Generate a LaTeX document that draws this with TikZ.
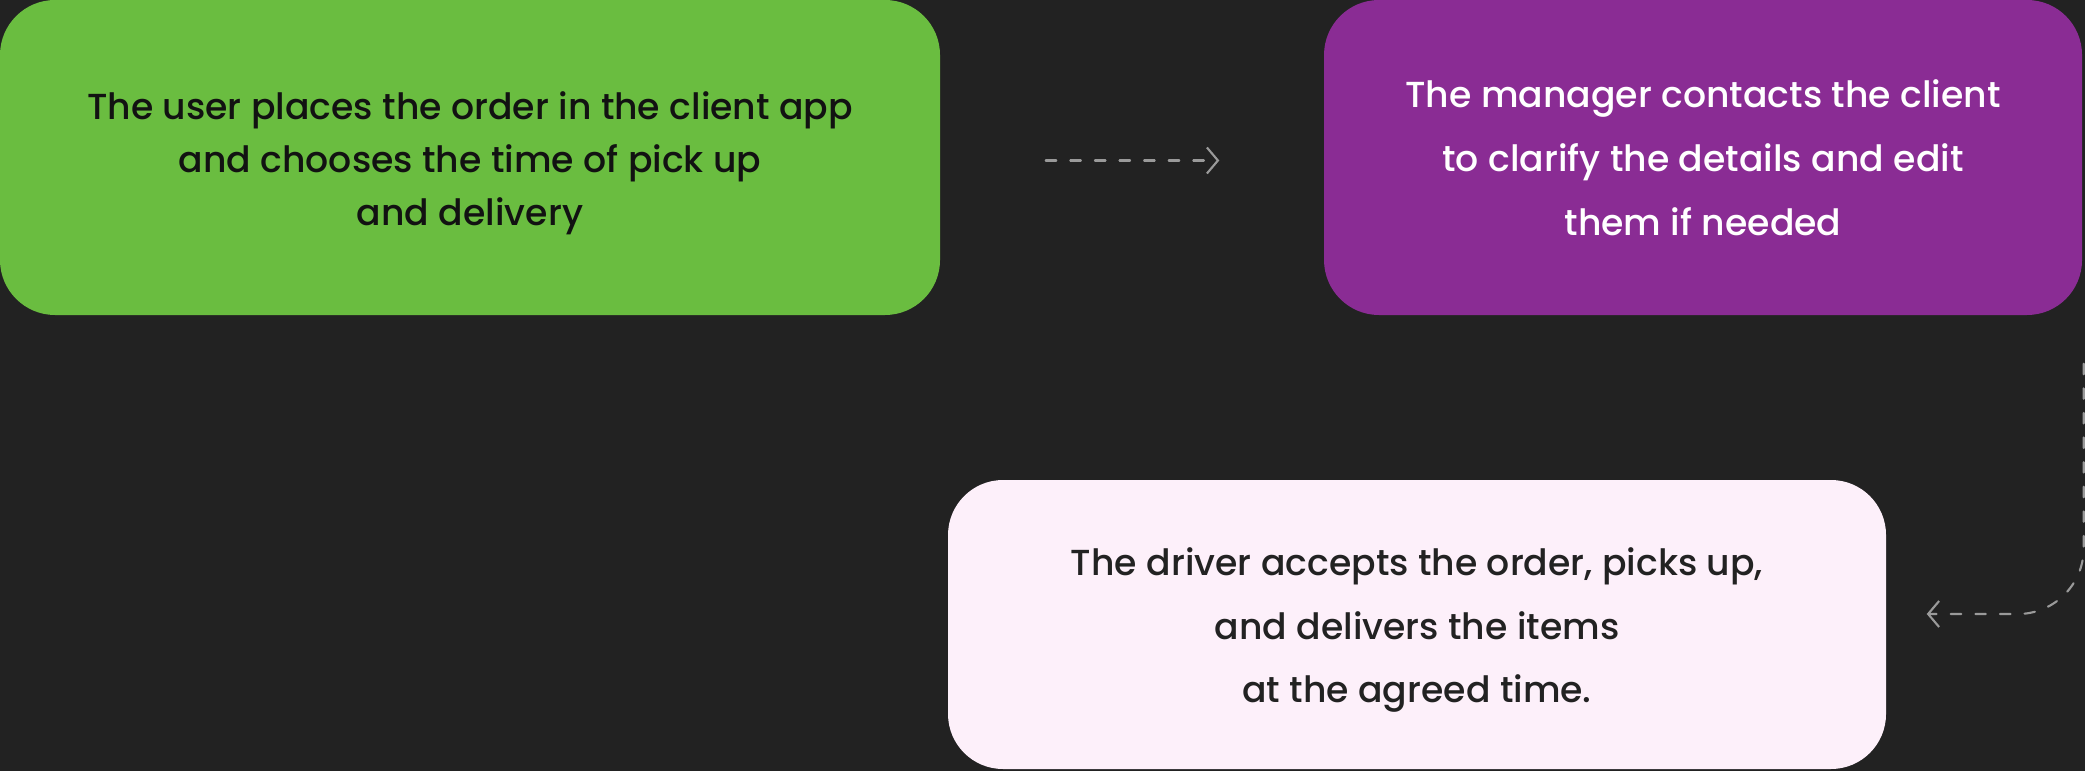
\documentclass[tikz,border=0pt]{standalone}
\usepackage{fontspec}
\IfFontExistsTF{Poppins Medium}{\setmainfont{Poppins Medium}}{\setmainfont{Poppins}[FakeBold=0.4]}
\usetikzlibrary{arrows.meta,positioning}
\definecolor{bgdark}{HTML}{222222}
\definecolor{stepgreen}{HTML}{6ABD40}
\definecolor{steppurple}{HTML}{8A2C94}
\definecolor{steplight}{HTML}{FDF0FA}
\definecolor{flowgray}{HTML}{9A9A9A}
\tikzset{
  stepbox/.style={rounded corners=0.55cm, inner sep=0pt},
  steptext/.style={align=center, inner sep=0pt, font=\fontsize{10.3}{18.2}\selectfont},
  flow/.style={-{Straight Barb[length=1.1mm, width=2.6mm]}, draw=flowgray,
    line width=0.6pt, dash pattern=on 3pt off 4pt}
}
\begin{document}
\begin{tikzpicture}[line cap=round, line join=round]
  \fill[bgdark] (0,0) rectangle (20.85,-7.71);
  \useasboundingbox (0,0) rectangle (20.85,-7.71);

  \node[stepbox, fill=stepgreen, minimum width=9.40cm, minimum height=3.15cm]
    (order) at (4.70,-1.575) {};
  \node[steptext, text=black!93, font=\fontsize{10.3}{15.1}\selectfont]
    (orderText) at ([yshift=-0.06cm]order.center)
    {The user places the order in the client app\\
     and chooses the time of pick up\\
     and delivery};

  \node[stepbox, fill=steppurple, minimum width=7.58cm, minimum height=3.15cm]
    (manager) at (17.03,-1.575) {};
  \node[steptext, text=white] (managerText) at (manager.center)
    {The manager contacts the client\\
     to clarify the details and edit\\
     them if needed};

  \node[stepbox, fill=steplight, minimum width=9.38cm, minimum height=2.89cm]
    (driver) at (14.17,-6.245) {};
  \node[steptext, text=bgdark] (driverText) at ([yshift=-0.055cm]driver.center)
    {The driver accepts the order, picks up,\\
     and delivers the items\\
     at the agreed time.};

  \draw[flow, shorten <=1.05cm, shorten >=1.04cm] ([yshift=-0.03cm]order.east) -- ([yshift=-0.03cm]manager.west);
  \draw[flow, rounded corners=0.66cm] ([xshift=0.01cm,yshift=-0.48cm]manager.south east)
    |- ([xshift=0.40cm,yshift=0.105cm]driver.east);
\end{tikzpicture}
\end{document}
